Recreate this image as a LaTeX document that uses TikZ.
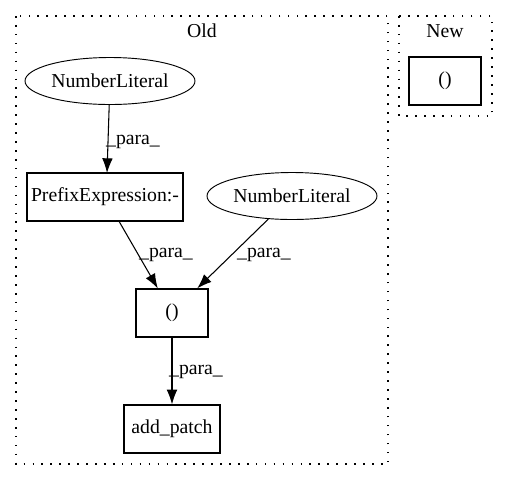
\documentclass[tikz,border=0pt]{standalone}
\usepackage{fontspec}
\setmainfont{Liberation Serif}
\usetikzlibrary{arrows.meta,shapes.geometric}
\begin{document}
\begin{tikzpicture}[x=0.75pt,y=-0.75pt,
  font=\fontsize{14.8}{17}\selectfont,
  box/.style={draw, line width=0.9pt, minimum width=#1*0.75pt, minimum height=36pt, inner sep=0pt},
  ell/.style={draw, ellipse, line width=0.7pt, minimum width=127.5pt, minimum height=35.25pt, inner sep=0pt},
  cluster/.style={draw, line width=1pt, dash pattern=on 1.2pt off 5.5pt},
  edge/.style={-{Latex[length=11pt,width=8pt]}, line width=0.8pt},
  lbl/.style={inner sep=1pt}]
\useasboundingbox (0,0) rectangle (508,480);
\draw[cluster] (16,16) rectangle (388,464);
\draw[cluster] (399,16) rectangle (492,116);
\node (oldlbl) at (202,31) {Old};
\node (newlbl) at (445,31) {New};
\node[box=72] (newp) at (445,81) {()};
\node[ell] (nl1) at (110,81) {NumberLiteral};
\node[box=156] (pre) at (105,197) {PrefixExpression:-};
\node[ell] (nl2) at (292,196) {NumberLiteral};
\node[box=72] (par) at (172,313) {()};
\node[box=96] (add) at (172,429) {add\_patch};
\coordinate (pretop) at (107,173);
\draw[edge] (nl1) -- (pretop);
\draw[edge] (pre) -- (par);
\draw[edge] (nl2) -- (par);
\draw[edge] (par) -- (add);
\node[lbl] (l1) at (133,142) {\_para\_};
\node[lbl] (l2) at (166,255) {\_para\_};
\node[lbl] (l3) at (264,255) {\_para\_};
\node[lbl] (l4) at (196,372) {\_para\_};
\end{tikzpicture}
\end{document}
